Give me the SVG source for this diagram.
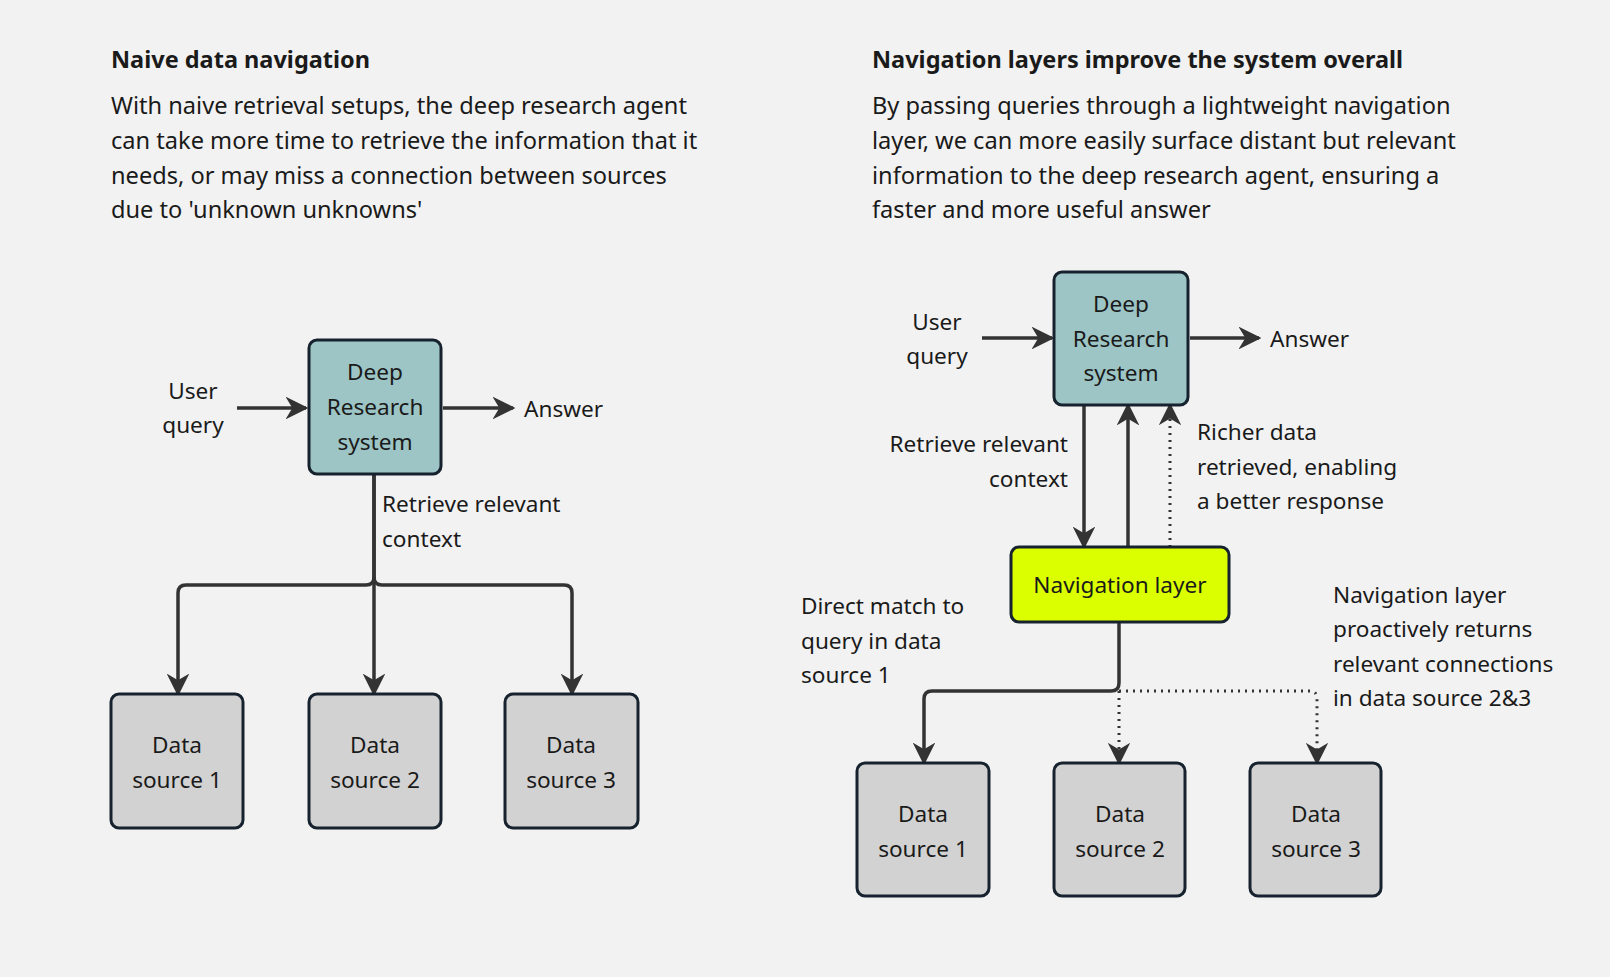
<svg xmlns="http://www.w3.org/2000/svg" width="1610" height="977" viewBox="0 0 1610 977">
<defs>
<marker id="ah" viewBox="0 0 10 10" refX="9" refY="5" markerWidth="6.5" markerHeight="6.5" markerUnits="strokeWidth" orient="auto"><path d="M0,0 L10,5 L0,10 L3,5 Z" fill="#333"/></marker>
<marker id="ahd" viewBox="0 0 10 10" refX="9" refY="5" markerWidth="7.5" markerHeight="7.5" markerUnits="strokeWidth" orient="auto"><path d="M0,0 L10,5 L0,10 L3,5 Z" fill="#333"/></marker>
<style>
text{font-family:"Noto Sans","Open Sans",sans-serif;fill:#1a1a1a}
.h{font-size:23.5px;font-weight:bold}
.b{font-size:23.6px}
.n{font-size:22.6px;text-anchor:middle}
.l{font-size:22.6px}
.box{stroke:#16222e;stroke-width:3}
.teal{fill:#9dc5c5}.gray{fill:#d2d2d2}.yel{fill:#dcff00}
.c{fill:none;stroke:#333;stroke-width:3.5}
.d{stroke-dasharray:2 5;stroke-width:3}
</style>
</defs>
<rect width="1610" height="977" fill="#f2f2f2"/>
<g id="text-left">
<text class="h" x="111" y="68">Naive data navigation</text>
<text class="b" x="111" y="114">With naive retrieval setups, the deep research agent</text>
<text class="b" x="111" y="149">can take more time to retrieve the information that it</text>
<text class="b" x="111" y="184">needs, or may miss a connection between sources</text>
<text class="b" x="111" y="218">due to 'unknown unknowns'</text>
<text class="l" x="193" y="399" text-anchor="middle">User</text>
<text class="l" x="193" y="433" text-anchor="middle">query</text>
<text class="l" x="524" y="417">Answer</text>
<text class="l" x="382" y="512">Retrieve relevant</text>
<text class="l" x="382" y="547">context</text>
</g>
<g id="text-right">
<text class="h" x="872" y="68">Navigation layers improve the system overall</text>
<text class="b" x="872" y="114">By passing queries through a lightweight navigation</text>
<text class="b" x="872" y="149">layer, we can more easily surface distant but relevant</text>
<text class="b" x="872" y="184">information to the deep research agent, ensuring a</text>
<text class="b" x="872" y="218">faster and more useful answer</text>
<text class="l" x="937" y="330" text-anchor="middle">User</text>
<text class="l" x="937" y="364" text-anchor="middle">query</text>
<text class="l" x="1270" y="347">Answer</text>
<text class="l" x="1068" y="452" text-anchor="end">Retrieve relevant</text>
<text class="l" x="1068" y="487" text-anchor="end">context</text>
<text class="l" x="1197" y="440">Richer data</text>
<text class="l" x="1197" y="475">retrieved, enabling</text>
<text class="l" x="1197" y="509">a better response</text>
<text class="l" x="801" y="614">Direct match to</text>
<text class="l" x="801" y="649">query in data</text>
<text class="l" x="801" y="683">source 1</text>
<text class="l" x="1333" y="603">Navigation layer</text>
<text class="l" x="1333" y="637">proactively returns</text>
<text class="l" x="1333" y="672">relevant connections</text>
<text class="l" x="1333" y="706">in data source 2&amp;3</text>
</g>
<g id="connectors">
<path class="c" d="M237,408 H306" marker-end="url(#ah)"/>
<path class="c" d="M443,408 H513" marker-end="url(#ah)"/>
<path class="c" d="M374,474 V577 Q374,585 366,585 H186 Q178,585 178,593 V694" marker-end="url(#ah)"/>
<path class="c" d="M374,474 V694" marker-end="url(#ah)"/>
<path class="c" d="M374,577 Q374,585 382,585 H564 Q572,585 572,593 V694" marker-end="url(#ah)"/>
<path class="c" d="M982,338 H1052" marker-end="url(#ah)"/>
<path class="c" d="M1190,338 H1259" marker-end="url(#ah)"/>
<path class="c" d="M1084,405 V547" marker-end="url(#ah)"/>
<path class="c" d="M1128,547 V405" marker-end="url(#ah)"/>
<path class="c d" d="M1170,547 V405" marker-end="url(#ahd)"/>
<path class="c" d="M1119,622 V683 Q1119,691 1111,691 H932 Q924,691 924,699 V763" marker-end="url(#ah)"/>
<path class="c d" d="M1119,691 V763" marker-end="url(#ahd)"/>
<path class="c d" d="M1119,691 H1310 Q1317,691 1317,699 V763" marker-end="url(#ahd)"/>
</g>
<g id="deep-left"><rect class="box teal" x="309" y="340" width="132" height="134" rx="8"/>
<text class="n" x="375" y="380">Deep</text><text class="n" x="375" y="415">Research</text><text class="n" x="375" y="450">system</text></g>
<g id="ds1-left"><rect class="box gray" x="111" y="694" width="132" height="134" rx="8"/>
<text class="n" x="177" y="753">Data</text><text class="n" x="177" y="788">source 1</text></g>
<g id="ds2-left"><rect class="box gray" x="309" y="694" width="132" height="134" rx="8"/>
<text class="n" x="375" y="753">Data</text><text class="n" x="375" y="788">source 2</text></g>
<g id="ds3-left"><rect class="box gray" x="505" y="694" width="133" height="134" rx="8"/>
<text class="n" x="571" y="753">Data</text><text class="n" x="571" y="788">source 3</text></g>
<g id="deep-right"><rect class="box teal" x="1054" y="272" width="134" height="133" rx="8"/>
<text class="n" x="1121" y="312">Deep</text><text class="n" x="1121" y="347">Research</text><text class="n" x="1121" y="381">system</text></g>
<g id="nav"><rect class="box yel" x="1011" y="547" width="218" height="75" rx="8"/>
<text class="n" x="1120" y="593">Navigation layer</text></g>
<g id="ds1-right"><rect class="box gray" x="857" y="763" width="132" height="133" rx="8"/>
<text class="n" x="923" y="822">Data</text><text class="n" x="923" y="857">source 1</text></g>
<g id="ds2-right"><rect class="box gray" x="1054" y="763" width="131" height="133" rx="8"/>
<text class="n" x="1120" y="822">Data</text><text class="n" x="1120" y="857">source 2</text></g>
<g id="ds3-right"><rect class="box gray" x="1250" y="763" width="131" height="133" rx="8"/>
<text class="n" x="1316" y="822">Data</text><text class="n" x="1316" y="857">source 3</text></g>
</svg>
